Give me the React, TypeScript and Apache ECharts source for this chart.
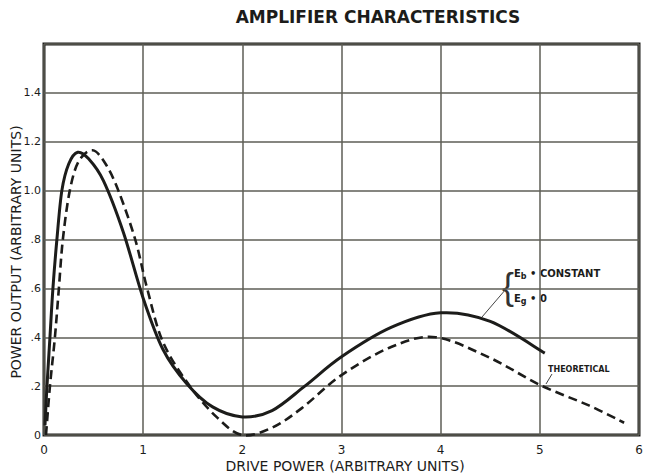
import React, { useEffect, useRef } from "react";
import * as echarts from "echarts";

const TITLE = "AMPLIFIER CHARACTERISTICS";
const X_NAME = "DRIVE POWER (ARBITRARY UNITS)";
const Y_NAME = "POWER OUTPUT (ARBITRARY UNITS)";
const X_TICKS = ["0", "1", "2", "3", "4", "5", "6"];
const Y_TICKS: Record<string, string> = {
  "0": "0", "0.2": ".2", "0.4": ".4", "0.6": ".6", "0.8": ".8",
  "1": "1.0", "1.2": "1.2", "1.4": "1.4", "1.6": "",
};

const measuredX = [0.01, 0.03, 0.06, 0.09, 0.13, 0.18, 0.25, 0.34, 0.45, 0.6, 0.8, 1.0, 1.2, 1.44, 1.7, 2.0, 2.3, 2.63, 3.0, 3.5, 4.0, 4.5, 5.05];
const measuredY = [0.04, 0.2, 0.4, 0.6, 0.8, 1.0, 1.11, 1.157, 1.13, 1.04, 0.83, 0.56, 0.35, 0.21, 0.115, 0.074, 0.1, 0.2, 0.32, 0.44, 0.5, 0.465, 0.335];

const theoX = [0.02, 0.06, 0.11, 0.15, 0.19, 0.26, 0.35, 0.49, 0.62, 0.75, 0.92, 1.04, 1.2, 1.47, 1.75, 2.0, 2.3, 2.6, 3.0, 3.5, 3.95, 4.5, 5.0, 5.5, 5.85];
const theoY = [0.0, 0.2, 0.4, 0.6, 0.8, 1.0, 1.12, 1.165, 1.11, 1.0, 0.8, 0.6, 0.38, 0.2, 0.07, 0.0, 0.03, 0.11, 0.245, 0.36, 0.4, 0.315, 0.205, 0.12, 0.05];

const INK = "#1c1c1a";
const FONT = "DejaVu Sans";

function splineSeries(name: string, data: number[][], lineStyle: any, z: number) {
  return {
    type: "custom",
    name,
    data,
    clip: false,
    z,
    encode: { x: 0, y: 1 },
    renderItem: (params: any, api: any) => {
      if (params.dataIndex !== 0) return null;
      const p = data.map((d) => api.coord(d));
      let d = `M${p[0][0]},${p[0][1]}`;
      for (let i = 0; i < p.length - 1; i++) {
        const p0 = p[Math.max(0, i - 1)];
        const p1 = p[i];
        const p2 = p[i + 1];
        const p3 = p[Math.min(p.length - 1, i + 2)];
        const c1x = p1[0] + (p2[0] - p0[0]) / 6;
        const c1y = p1[1] + (p2[1] - p0[1]) / 6;
        const c2x = p2[0] - (p3[0] - p1[0]) / 6;
        const c2y = p2[1] - (p3[1] - p1[1]) / 6;
        d += ` C${c1x},${c1y} ${c2x},${c2y} ${p2[0]},${p2[1]}`;
      }
      return {
        type: "path",
        shape: { pathData: d },
        style: { fill: "none", stroke: INK, lineJoin: "round", ...lineStyle },
      };
    },
  };
}

export default function App() {
  const ref = useRef<HTMLDivElement>(null);
  useEffect(() => {
    if (!ref.current) return;
    const chart = echarts.init(ref.current, undefined, { renderer: "svg" });
    const measured = measuredX.map((x, i) => [x, measuredY[i]]);
    const theo = theoX.map((x, i) => [x, theoY[i]]);
    const sub = {
      e: { font: `bold 10px ${FONT}`, fill: INK },
      s: { font: `bold 8px ${FONT}`, fill: INK, padding: [7, 0, 0, 0] },
    };
    chart.setOption({
      animation: false,
      backgroundColor: "#ffffff",
      grid: {
        left: 44, right: 12, top: 44, bottom: 41,
        show: true, borderColor: INK, borderWidth: 3,
      },
      xAxis: {
        type: "value", min: 0, max: 6, interval: 1,
        axisLine: { show: false }, axisTick: { show: false },
        splitLine: { lineStyle: { color: "#5e5e56", width: 1.5 } },
        axisLabel: {
          color: INK, fontFamily: FONT, fontSize: 12, margin: 9,
          formatter: (v: number) => X_TICKS[Math.round(v)] ?? "",
        },
      },
      yAxis: {
        type: "value", min: 0, max: 1.6, interval: 0.2,
        axisLine: { show: false }, axisTick: { show: false },
        splitLine: { lineStyle: { color: "#5e5e56", width: 1.5 } },
        axisLabel: {
          color: INK, fontFamily: FONT, fontSize: 11, margin: 3,
          formatter: (v: number) => Y_TICKS[String(Math.round(v * 10) / 10)] ?? "",
        },
      },
      series: [
        splineSeries("Theoretical", theo, { lineWidth: 2.6, lineDash: [9, 5] }, 3),
        splineSeries("Eb constant, Eg 0", measured, { lineWidth: 3 }, 4),
      ],
      graphic: [
        {
          type: "text", x: 378, y: 17,
          style: { text: TITLE, font: `bold 17px ${FONT}`, fill: INK, align: "center", verticalAlign: "middle" },
        },
        {
          type: "text", x: 345, y: 466,
          style: { text: X_NAME, font: `14px ${FONT}`, fill: INK, align: "center", verticalAlign: "middle" },
        },
        {
          type: "text", x: 16, y: 252, rotation: Math.PI / 2,
          style: { text: Y_NAME, font: `14px ${FONT}`, fill: INK, align: "center", verticalAlign: "middle" },
        },
        {
          type: "text", x: 514, y: 273,
          style: { text: "{e|E}{s|b}{e| • CONSTANT}", verticalAlign: "middle", rich: sub },
        },
        {
          type: "text", x: 514, y: 298,
          style: { text: "{e|E}{s|g}{e| • 0}", verticalAlign: "middle", rich: sub },
        },
        {
          type: "text", x: 514, y: 286,
          style: { text: "{", font: `lighter 36px "Liberation Sans"`, fill: "#333333", align: "right", verticalAlign: "middle" },
        },
        {
          type: "line", shape: { x1: 506, y1: 289, x2: 482, y2: 317 },
          style: { stroke: "#444444", lineWidth: 1 },
        },
        {
          type: "text", x: 548, y: 369,
          style: { text: "THEORETICAL", font: `bold 8px ${FONT}`, fill: INK, verticalAlign: "middle" },
        },
        {
          type: "line", shape: { x1: 552, y1: 374, x2: 546, y2: 384 },
          style: { stroke: "#444444", lineWidth: 1 },
        },
      ],
    });
    return () => chart.dispose();
  }, []);
  return <div ref={ref} style={{ width: 651, height: 476, position: "absolute", left: 0, top: 0 }} />;
}
